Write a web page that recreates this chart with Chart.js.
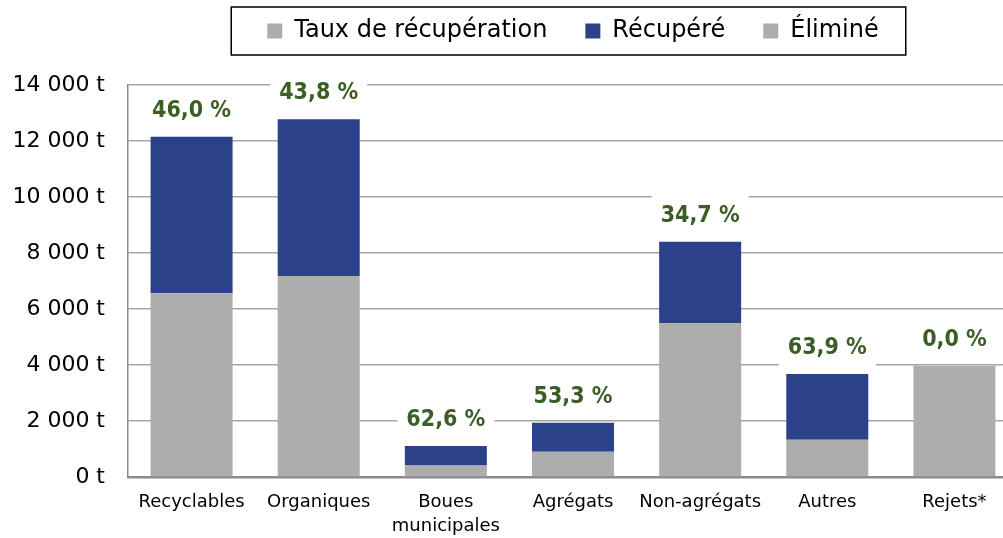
<!DOCTYPE html>
<html>
<head>
<meta charset="utf-8">
<script src="https://cdn.jsdelivr.net/npm/chart.js@4.4.1/dist/chart.umd.min.js"></script>
<style>
  html, body { margin: 0; padding: 0; background: #fff; overflow: hidden; }
  #wrap { position: relative; width: 1018px; height: 538px; }
</style>
</head>
<body>
<div id="wrap"><canvas id="recupChart"></canvas></div>
<script>
const categories = ['Recyclables', 'Organiques', ['Boues', 'municipales'], 'Agrégats', 'Non-agrégats', 'Autres', 'Rejets*'];
const elimine = [6560, 7180, 415, 905, 5490, 1330, 3975];
const recupere = [5590, 5595, 695, 1035, 2915, 2350, 0];
const tauxRecup = [46.0, 43.8, 62.6, 53.3, 34.7, 63.9, 0.0];
const legendOrder = ['Taux de récupération', 'Récupéré', 'Éliminé'];

const gris = '#ADADAD';
const bleu = '#2B418A';
const vert = '#3A5E25';
const fontFamily = "'DejaVu Sans', sans-serif";

function fmtTonnes(v) {
    return String(v).replace(/\B(?=(\d{3})+(?!\d))/g, ' ') + ' t';
}

// frame around the legend + move it over the plot
const legendFrame = {
    id: 'legendFrame',
    afterLayout(chart) {
        const lg = chart.legend;
        const ca = chart.chartArea;
        const pad = lg.options.labels.padding;
        const dx = (ca.left + ca.right) / 2 - (lg.left + lg.right) / 2;
        lg.left += dx;
        lg.right += dx;
        // items centred on y = 31
        const dy = (31 - 12 - pad) - lg.top;
        lg.top += dy;
        lg.bottom += dy;
    },
    afterDraw(chart) {
        const lg = chart.legend;
        const pad = lg.options.labels.padding;
        const itemsLeft = (lg.left + pad + lg.right - lg.lineWidths[0]) / 2;
        const itemsRight = itemsLeft + lg.lineWidths[0] - pad;
        const ctx = chart.ctx;
        ctx.save();
        ctx.strokeStyle = '#000';
        ctx.lineWidth = 1.5;
        ctx.strokeRect(itemsLeft - 36, 7, itemsRight - itemsLeft + 63, 48);
        ctx.restore();
    }
};

// recovery rate labels on top of each bar
const tauxLabels = {
    id: 'tauxLabels',
    afterDatasetsDraw(chart) {
        const ctx = chart.ctx;
        const xs = chart.scales.x;
        const ys = chart.scales.y;
        ctx.save();
        ctx.font = "bold 23px 'DejaVu Sans Condensed', 'DejaVu Sans', sans-serif";
        ctx.textAlign = 'center';
        ctx.textBaseline = 'middle';
        tauxRecup.forEach((t, i) => {
            const txt = t.toFixed(1).replace('.', ',') + ' %';
            const x = xs.getPixelForValue(i);
            const y = ys.getPixelForValue(elimine[i] + recupere[i]) - 26;
            const w = ctx.measureText(txt).width;
            ctx.fillStyle = '#fff';
            ctx.fillRect(x - w / 2 - 9, y - 21, w + 18, 40);
            ctx.fillStyle = vert;
            ctx.fillText(txt, x, y);
        });
        ctx.restore();
    }
};

const config = {
    type: 'bar',
    data: {
        labels: categories,
        datasets: [
            {
                label: 'Taux de récupération',
                data: categories.map(() => null),
                backgroundColor: gris,
                borderWidth: 0
            },
            {
                label: 'Éliminé',
                data: elimine,
                backgroundColor: gris,
                borderWidth: 0
            },
            {
                label: 'Récupéré',
                data: recupere,
                backgroundColor: bleu,
                borderWidth: 0
            }
        ]
    },
    options: {
        responsive: true,
        maintainAspectRatio: false,
        animation: false,
        layout: { padding: { top: 13, left: 0, right: 0, bottom: 0 } },
        datasets: {
            bar: { categoryPercentage: 1, barPercentage: 0.645 }
        },
        plugins: {
            tooltip: { enabled: false },
            legend: {
                position: 'top',
                labels: {
                    boxWidth: 15,
                    boxHeight: 15,
                    padding: 38,
                    color: '#000',
                    font: { family: fontFamily, size: 24 },
                    sort: (a, b) => legendOrder.indexOf(a.text) - legendOrder.indexOf(b.text)
                }
            }
        },
        scales: {
            x: {
                stacked: true,
                grid: { display: false, drawTicks: false },
                border: { display: true, color: '#8C8C8C', width: 2.5 },
                ticks: {
                    color: '#000',
                    padding: 14,
                    maxRotation: 0,
                    font: { family: fontFamily, size: 18, lineHeight: 1.3 }
                },
                afterFit(scale) { scale.height = 61; }
            },
            y: {
                stacked: true,
                min: 0,
                max: 14000,
                grid: { color: '#A6A6A6', lineWidth: 1.5, drawTicks: false },
                border: { display: true, color: '#8C8C8C', width: 1.5 },
                ticks: {
                    stepSize: 2000,
                    padding: 23,
                    color: '#000',
                    font: { family: fontFamily, size: 22 },
                    callback: (v) => fmtTonnes(v)
                },
                afterFit(scale) { scale.width = 128; }
            }
        }
    },
    plugins: [legendFrame, tauxLabels]
};

const chart = new Chart(document.getElementById('recupChart'), config);
</script>
</body>
</html>
